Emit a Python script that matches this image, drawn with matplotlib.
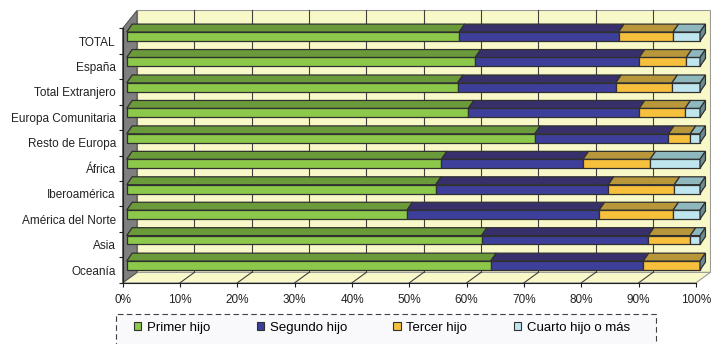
import matplotlib
matplotlib.use("Agg")
import matplotlib.pyplot as plt
from matplotlib.patches import Polygon, Rectangle
from matplotlib.font_manager import fontManager

names = {f.name for f in fontManager.ttflist}
FAM = ['Liberation Sans Narrow'] if 'Liberation Sans Narrow' in names else ['Liberation Sans']
plt.rcParams['font.family'] = FAM + ['DejaVu Sans']

# ---- data ----
categories = ["TOTAL", "España", "Total Extranjero", "Europa Comunitaria", "Resto de Europa",
              "África", "Iberoamérica", "América del Norte", "Asia", "Oceanía"]
primer = [58.0, 60.8, 57.7, 59.6, 71.2, 54.9, 53.9, 48.9, 61.9, 63.5]
segundo = [27.8, 28.6, 27.6, 29.8, 23.3, 24.7, 30.1, 33.5, 29.1, 26.6]
tercer = [9.5, 8.2, 9.8, 8.0, 3.8, 11.7, 11.5, 12.9, 7.3, 9.9]
cuarto = [4.7, 2.4, 4.9, 2.6, 1.7, 8.7, 4.5, 4.7, 1.7, 0.0]
series_names = ["Primer hijo", "Segundo hijo", "Tercer hijo", "Cuarto hijo o más"]
xticks = [0, 10, 20, 30, 40, 50, 60, 70, 80, 90, 100]
xticklabels = ["0%", "10%", "20%", "30%", "40%", "50%", "60%", "70%", "80%", "90%", "100%"]

# ---- styles ----
front_cols = ["#8CC84A", "#3D3F9B", "#F7C03C", "#BFE6EE"]
top_cols = ["#6B9A3A", "#37306B", "#B8963A", "#8FB8BE"]
side_col = "#6A8C92"
wall_col = "#F8F8C8"
edge = "#303030"

W, H = 711, 344
fig = plt.figure(figsize=(W / 100, H / 100), dpi=100)
ax = fig.add_axes([122.7 / W, (H - 282.8) / H, 573.3 / W, 254.5 / H])
ax.set_xlim(0, 100)
ax.set_ylim(-0.5, 9.5)
ax.set_facecolor("none")

WX = 2.5          # wall depth (x, %)
FY = 0.41         # floor depth (y)
TOPB = 10.2       # back wall top
bx0, by0, bh = 0.7, 0.18, 0.35   # bar offset & height
ddx, ddy = 0.95, 0.31            # bar depth

# back wall
ax.add_patch(Polygon([(WX, -0.5 + FY), (100 + WX, -0.5 + FY), (100 + WX, TOPB), (WX, TOPB)],
                     closed=True, facecolor=wall_col, edgecolor="#9A9A9A", lw=0.8,
                     clip_on=False, zorder=0))
# floor
ax.add_patch(Polygon([(0, -0.5), (100, -0.5), (100 + WX, -0.5 + FY), (WX, -0.5 + FY)],
                     closed=True, facecolor=wall_col, edgecolor="#9A9A9A", lw=0.8,
                     clip_on=False, zorder=0))
# left wall
ax.add_patch(Polygon([(0, -0.5), (WX, -0.5 + FY), (WX, TOPB), (0, 9.5)],
                     closed=True, facecolor="#7F7F7F", edgecolor="#555555", lw=0.8,
                     clip_on=False, zorder=0.5))
# gridlines
for xv in xticks[1:-1]:
    ax.plot([xv, xv + WX], [-0.5, -0.5 + FY], color="#404040", lw=0.8, clip_on=False, zorder=0.6)
    ax.plot([xv + WX, xv + WX], [-0.5 + FY, TOPB], color="#404040", lw=0.8, clip_on=False, zorder=0.6)

n = len(categories)
ypos = [n - 1 - i for i in range(n)]
data = [primer, segundo, tercer, cuarto]

for i in range(n):
    yc = ypos[i] + by0
    ybot, ytop = yc - bh / 2, yc + bh / 2
    left = 0.0
    for s in range(4):
        v = data[s][i]
        x0 = left + bx0
        x1 = x0 + v
        ax.barh(yc, v, left=x0, height=bh, color=front_cols[s], edgecolor=edge, lw=0.9,
                zorder=2, clip_on=False)
        if v > 0:
            ax.add_patch(Polygon([(x0, ytop), (x1, ytop), (x1 + ddx, ytop + ddy), (x0 + ddx, ytop + ddy)],
                                 closed=True, facecolor=top_cols[s], edgecolor=edge, lw=0.9,
                                 clip_on=False, zorder=2))
        left += v
    xe = left + bx0
    ax.add_patch(Polygon([(xe, ybot), (xe + ddx, ybot + ddy), (xe + ddx, ytop + ddy), (xe, ytop)],
                         closed=True, facecolor=side_col, edgecolor=edge, lw=0.9,
                         clip_on=False, zorder=2))

# axes
for sp in ["top", "right"]:
    ax.spines[sp].set_visible(False)
ax.spines["bottom"].set_color("#202020")
ax.spines["left"].set_color("#202020")
ax.spines["bottom"].set_zorder(3)
ax.set_xticks(xticks)
ax.set_xticklabels(xticklabels, fontsize=8.5, color="#222222")
ax.tick_params(axis="x", length=3, width=0.8, color="#202020", pad=5)
ax.set_yticks(ypos)
ax.set_yticklabels(categories, fontsize=8.5, color="#222222")
ax.set_yticks([k - 0.5 for k in range(n + 1)], minor=True)
ax.tick_params(axis="y", which="major", length=0, pad=5)
ax.tick_params(axis="y", which="minor", length=3, width=0.8, color="#202020")

# legend box (dashed, cut by the image bottom)
fig.patches.append(Rectangle((116 / W, -0.05), (656 - 116) / W, (H - 314) / H + 0.05,
                             transform=fig.transFigure, facecolor="#F9F9FB", edgecolor="#404040",
                             lw=0.8, linestyle=(0, (5, 3)), zorder=0))
handles = [Rectangle((0, 0), 1, 1, facecolor=c, edgecolor="#303030", lw=0.8) for c in front_cols]
leg = fig.legend(handles, series_names, loc="center left", bbox_to_anchor=(134 / W, 1 - 328 / H),
                 ncol=4, frameon=False, fontsize=9.5, handlelength=0.55, handleheight=0.55,
                 handletextpad=0.45, columnspacing=3.5, borderpad=0, borderaxespad=0)

fig.savefig("out.png", dpi=100)
